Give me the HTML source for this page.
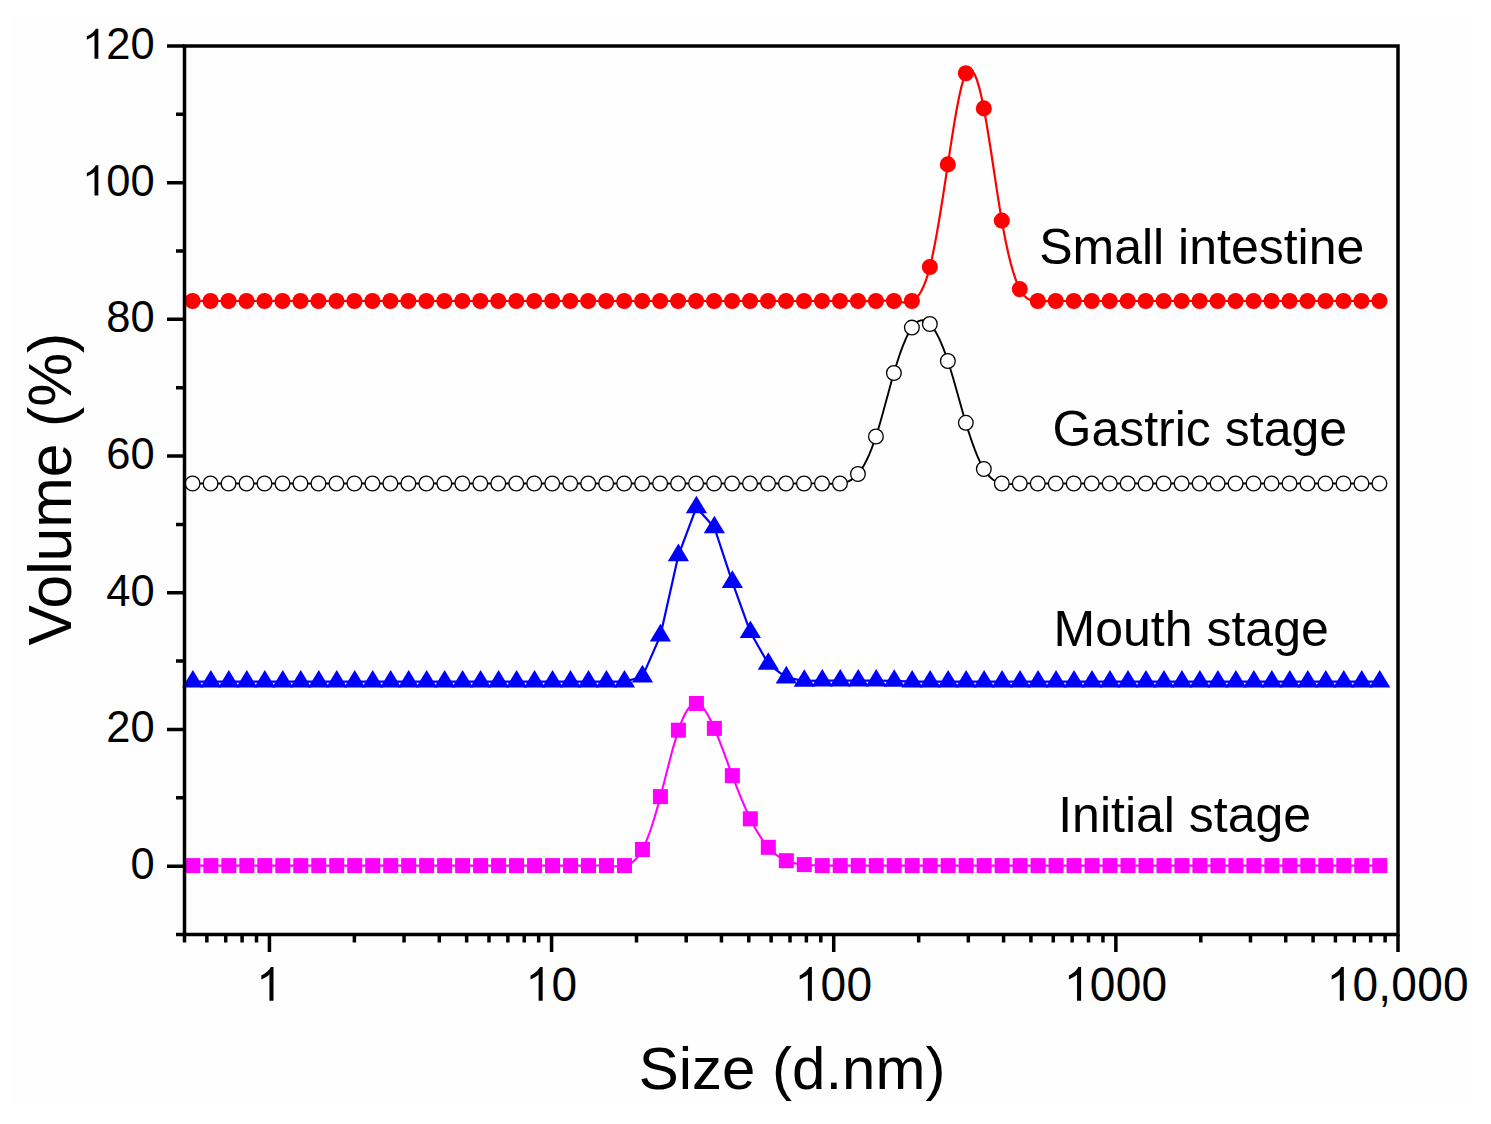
<!DOCTYPE html>
<html><head><meta charset="utf-8"><title>Volume vs Size</title>
<style>html,body{margin:0;padding:0;background:#fff;width:1491px;height:1124px;overflow:hidden;font-family:"Liberation Sans",sans-serif}svg{display:block}</style>
</head><body>
<svg width="1491" height="1124" viewBox="0 0 1491 1124">
<rect x="0" y="0" width="1491" height="1124" fill="#ffffff"/>
<rect x="11" y="17" width="1461" height="1089" fill="#fefefe"/>
<g>
<path d="M192.87,865.60 L195.11,865.60 L197.36,865.60 L199.61,865.60 L201.86,865.60 L204.11,865.60 L206.35,865.60 L208.60,865.60 L210.85,865.60 L213.10,865.60 L215.34,865.60 L217.59,865.60 L219.84,865.60 L222.09,865.60 L224.34,865.60 L226.58,865.60 L228.83,865.60 L231.08,865.60 L233.33,865.60 L235.58,865.60 L237.82,865.60 L240.07,865.60 L242.32,865.60 L244.57,865.60 L246.81,865.60 L249.06,865.60 L251.31,865.60 L253.56,865.60 L255.81,865.60 L258.05,865.60 L260.30,865.60 L262.55,865.60 L264.80,865.60 L267.05,865.60 L269.29,865.60 L271.54,865.60 L273.79,865.60 L276.04,865.60 L278.29,865.60 L280.53,865.60 L282.78,865.60 L285.03,865.60 L287.28,865.60 L289.52,865.60 L291.77,865.60 L294.02,865.60 L296.27,865.60 L298.52,865.60 L300.76,865.60 L303.01,865.60 L305.26,865.60 L307.51,865.60 L309.76,865.60 L312.00,865.60 L314.25,865.60 L316.50,865.60 L318.75,865.60 L320.99,865.60 L323.24,865.60 L325.49,865.60 L327.74,865.60 L329.99,865.60 L332.23,865.60 L334.48,865.60 L336.73,865.60 L338.98,865.60 L341.23,865.60 L343.47,865.60 L345.72,865.60 L347.97,865.60 L350.22,865.60 L352.47,865.60 L354.71,865.60 L356.96,865.60 L359.21,865.60 L361.46,865.60 L363.70,865.60 L365.95,865.60 L368.20,865.60 L370.45,865.60 L372.70,865.60 L374.94,865.60 L377.19,865.60 L379.44,865.60 L381.69,865.60 L383.94,865.60 L386.18,865.60 L388.43,865.60 L390.68,865.60 L392.93,865.60 L395.17,865.60 L397.42,865.60 L399.67,865.60 L401.92,865.60 L404.17,865.60 L406.41,865.60 L408.66,865.60 L410.91,865.60 L413.16,865.60 L415.41,865.60 L417.65,865.60 L419.90,865.60 L422.15,865.60 L424.40,865.60 L426.65,865.60 L428.89,865.60 L431.14,865.60 L433.39,865.60 L435.64,865.60 L437.88,865.60 L440.13,865.60 L442.38,865.60 L444.63,865.60 L446.88,865.60 L449.12,865.60 L451.37,865.60 L453.62,865.60 L455.87,865.60 L458.12,865.60 L460.36,865.60 L462.61,865.60 L464.86,865.60 L467.11,865.60 L469.35,865.60 L471.60,865.60 L473.85,865.60 L476.10,865.60 L478.35,865.60 L480.59,865.60 L482.84,865.60 L485.09,865.60 L487.34,865.60 L489.59,865.60 L491.83,865.60 L494.08,865.60 L496.33,865.60 L498.58,865.60 L500.82,865.60 L503.07,865.60 L505.32,865.60 L507.57,865.60 L509.82,865.60 L512.06,865.60 L514.31,865.60 L516.56,865.60 L518.81,865.60 L521.06,865.60 L523.30,865.60 L525.55,865.60 L527.80,865.60 L530.05,865.60 L532.30,865.60 L534.54,865.60 L536.79,865.60 L539.04,865.60 L541.29,865.60 L543.53,865.60 L545.78,865.60 L548.03,865.60 L550.28,865.60 L552.53,865.60 L554.77,865.60 L557.02,865.59 L559.27,865.59 L561.52,865.59 L563.77,865.59 L566.01,865.59 L568.26,865.59 L570.51,865.60 L572.76,865.61 L575.00,865.62 L577.25,865.64 L579.50,865.64 L581.75,865.65 L584.00,865.64 L586.24,865.63 L588.49,865.60 L590.74,865.56 L592.99,865.51 L595.24,865.47 L597.48,865.44 L599.73,865.42 L601.98,865.44 L604.23,865.50 L606.47,865.60 L608.72,865.75 L610.97,865.93 L613.22,866.09 L615.47,866.21 L617.71,866.26 L619.96,866.19 L622.21,865.98 L624.46,865.60 L626.71,865.00 L628.95,864.13 L631.20,862.92 L633.45,861.30 L635.70,859.21 L637.95,856.60 L640.19,853.38 L642.44,849.50 L644.69,844.91 L646.94,839.65 L649.18,833.75 L651.43,827.28 L653.68,820.28 L655.93,812.80 L658.18,804.89 L660.42,796.60 L662.67,788.00 L664.92,779.20 L667.17,770.36 L669.42,761.60 L671.66,753.07 L673.91,744.90 L676.16,737.23 L678.41,730.20 L680.65,723.93 L682.90,718.46 L685.15,713.81 L687.40,709.99 L689.65,707.03 L691.89,704.95 L694.14,703.77 L696.39,703.50 L698.64,704.15 L700.89,705.66 L703.13,707.95 L705.38,710.94 L707.63,714.56 L709.88,718.73 L712.13,723.37 L714.37,728.40 L716.62,733.75 L718.87,739.37 L721.12,745.19 L723.36,751.17 L725.61,757.26 L727.86,763.39 L730.11,769.52 L732.36,775.60 L734.60,781.57 L736.85,787.42 L739.10,793.12 L741.35,798.65 L743.60,804.01 L745.84,809.16 L748.09,814.10 L750.34,818.80 L752.59,823.25 L754.83,827.44 L757.08,831.39 L759.33,835.07 L761.58,838.51 L763.83,841.69 L766.07,844.62 L768.32,847.30 L770.57,849.73 L772.82,851.92 L775.07,853.88 L777.31,855.62 L779.56,857.16 L781.81,858.52 L784.06,859.69 L786.30,860.70 L788.55,861.56 L790.80,862.27 L793.05,862.87 L795.30,863.36 L797.54,863.77 L799.79,864.10 L802.04,864.37 L804.29,864.60 L806.54,864.80 L808.78,864.98 L811.03,865.14 L813.28,865.27 L815.53,865.39 L817.78,865.48 L820.02,865.55 L822.27,865.60 L824.52,865.63 L826.77,865.65 L829.01,865.66 L831.26,865.65 L833.51,865.64 L835.76,865.63 L838.01,865.61 L840.25,865.60 L842.50,865.59 L844.75,865.59 L847.00,865.58 L849.25,865.59 L851.49,865.59 L853.74,865.59 L855.99,865.60 L858.24,865.60 L860.48,865.60 L862.73,865.60 L864.98,865.60 L867.23,865.60 L869.48,865.60 L871.72,865.60 L873.97,865.60 L876.22,865.60 L878.47,865.60 L880.72,865.60 L882.96,865.60 L885.21,865.60 L887.46,865.60 L889.71,865.60 L891.96,865.60 L894.20,865.60 L896.45,865.60 L898.70,865.60 L900.95,865.60 L903.19,865.60 L905.44,865.60 L907.69,865.60 L909.94,865.60 L912.19,865.60 L914.43,865.60 L916.68,865.60 L918.93,865.60 L921.18,865.60 L923.43,865.60 L925.67,865.60 L927.92,865.60 L930.17,865.60 L932.42,865.60 L934.66,865.60 L936.91,865.60 L939.16,865.60 L941.41,865.60 L943.66,865.60 L945.90,865.60 L948.15,865.60 L950.40,865.60 L952.65,865.60 L954.90,865.60 L957.14,865.60 L959.39,865.60 L961.64,865.60 L963.89,865.60 L966.13,865.60 L968.38,865.60 L970.63,865.60 L972.88,865.60 L975.13,865.60 L977.37,865.60 L979.62,865.60 L981.87,865.60 L984.12,865.60 L986.37,865.60 L988.61,865.60 L990.86,865.60 L993.11,865.60 L995.36,865.60 L997.61,865.60 L999.85,865.60 L1002.10,865.60 L1004.35,865.60 L1006.60,865.60 L1008.84,865.60 L1011.09,865.60 L1013.34,865.60 L1015.59,865.60 L1017.84,865.60 L1020.08,865.60 L1022.33,865.60 L1024.58,865.60 L1026.83,865.60 L1029.08,865.60 L1031.32,865.60 L1033.57,865.60 L1035.82,865.60 L1038.07,865.60 L1040.31,865.60 L1042.56,865.60 L1044.81,865.60 L1047.06,865.60 L1049.31,865.60 L1051.55,865.60 L1053.80,865.60 L1056.05,865.60 L1058.30,865.60 L1060.55,865.60 L1062.79,865.60 L1065.04,865.60 L1067.29,865.60 L1069.54,865.60 L1071.79,865.60 L1074.03,865.60 L1076.28,865.60 L1078.53,865.60 L1080.78,865.60 L1083.02,865.60 L1085.27,865.60 L1087.52,865.60 L1089.77,865.60 L1092.02,865.60 L1094.26,865.60 L1096.51,865.60 L1098.76,865.60 L1101.01,865.60 L1103.26,865.60 L1105.50,865.60 L1107.75,865.60 L1110.00,865.60 L1112.25,865.60 L1114.49,865.60 L1116.74,865.60 L1118.99,865.60 L1121.24,865.60 L1123.49,865.60 L1125.73,865.60 L1127.98,865.60 L1130.23,865.60 L1132.48,865.60 L1134.73,865.60 L1136.97,865.60 L1139.22,865.60 L1141.47,865.60 L1143.72,865.60 L1145.96,865.60 L1148.21,865.60 L1150.46,865.60 L1152.71,865.60 L1154.96,865.60 L1157.20,865.60 L1159.45,865.60 L1161.70,865.60 L1163.95,865.60 L1166.20,865.60 L1168.44,865.60 L1170.69,865.60 L1172.94,865.60 L1175.19,865.60 L1177.44,865.60 L1179.68,865.60 L1181.93,865.60 L1184.18,865.60 L1186.43,865.60 L1188.67,865.60 L1190.92,865.60 L1193.17,865.60 L1195.42,865.60 L1197.67,865.60 L1199.91,865.60 L1202.16,865.60 L1204.41,865.60 L1206.66,865.60 L1208.91,865.60 L1211.15,865.60 L1213.40,865.60 L1215.65,865.60 L1217.90,865.60 L1220.14,865.60 L1222.39,865.60 L1224.64,865.60 L1226.89,865.60 L1229.14,865.60 L1231.38,865.60 L1233.63,865.60 L1235.88,865.60 L1238.13,865.60 L1240.38,865.60 L1242.62,865.60 L1244.87,865.60 L1247.12,865.60 L1249.37,865.60 L1251.62,865.60 L1253.86,865.60 L1256.11,865.60 L1258.36,865.60 L1260.61,865.60 L1262.85,865.60 L1265.10,865.60 L1267.35,865.60 L1269.60,865.60 L1271.85,865.60 L1274.09,865.60 L1276.34,865.60 L1278.59,865.60 L1280.84,865.60 L1283.09,865.60 L1285.33,865.60 L1287.58,865.60 L1289.83,865.60 L1292.08,865.60 L1294.32,865.60 L1296.57,865.60 L1298.82,865.60 L1301.07,865.60 L1303.32,865.60 L1305.56,865.60 L1307.81,865.60 L1310.06,865.60 L1312.31,865.60 L1314.56,865.60 L1316.80,865.60 L1319.05,865.60 L1321.30,865.60 L1323.55,865.60 L1325.79,865.60 L1328.04,865.60 L1330.29,865.60 L1332.54,865.60 L1334.79,865.60 L1337.03,865.60 L1339.28,865.60 L1341.53,865.60 L1343.78,865.60 L1346.03,865.60 L1348.27,865.60 L1350.52,865.60 L1352.77,865.60 L1355.02,865.60 L1357.27,865.60 L1359.51,865.60 L1361.76,865.60 L1364.01,865.60 L1366.26,865.60 L1368.50,865.60 L1370.75,865.60 L1373.00,865.60 L1375.25,865.60 L1377.50,865.60 L1379.74,865.60" fill="none" stroke="#ff00ff" stroke-width="2.10" stroke-linejoin="round"/>
<rect x="185.37" y="858.10" width="15.0" height="15.0" fill="#ff00ff"/>
<rect x="203.35" y="858.10" width="15.0" height="15.0" fill="#ff00ff"/>
<rect x="221.33" y="858.10" width="15.0" height="15.0" fill="#ff00ff"/>
<rect x="239.31" y="858.10" width="15.0" height="15.0" fill="#ff00ff"/>
<rect x="257.30" y="858.10" width="15.0" height="15.0" fill="#ff00ff"/>
<rect x="275.28" y="858.10" width="15.0" height="15.0" fill="#ff00ff"/>
<rect x="293.26" y="858.10" width="15.0" height="15.0" fill="#ff00ff"/>
<rect x="311.25" y="858.10" width="15.0" height="15.0" fill="#ff00ff"/>
<rect x="329.23" y="858.10" width="15.0" height="15.0" fill="#ff00ff"/>
<rect x="347.21" y="858.10" width="15.0" height="15.0" fill="#ff00ff"/>
<rect x="365.20" y="858.10" width="15.0" height="15.0" fill="#ff00ff"/>
<rect x="383.18" y="858.10" width="15.0" height="15.0" fill="#ff00ff"/>
<rect x="401.16" y="858.10" width="15.0" height="15.0" fill="#ff00ff"/>
<rect x="419.15" y="858.10" width="15.0" height="15.0" fill="#ff00ff"/>
<rect x="437.13" y="858.10" width="15.0" height="15.0" fill="#ff00ff"/>
<rect x="455.11" y="858.10" width="15.0" height="15.0" fill="#ff00ff"/>
<rect x="473.09" y="858.10" width="15.0" height="15.0" fill="#ff00ff"/>
<rect x="491.08" y="858.10" width="15.0" height="15.0" fill="#ff00ff"/>
<rect x="509.06" y="858.10" width="15.0" height="15.0" fill="#ff00ff"/>
<rect x="527.04" y="858.10" width="15.0" height="15.0" fill="#ff00ff"/>
<rect x="545.03" y="858.10" width="15.0" height="15.0" fill="#ff00ff"/>
<rect x="563.01" y="858.10" width="15.0" height="15.0" fill="#ff00ff"/>
<rect x="580.99" y="858.10" width="15.0" height="15.0" fill="#ff00ff"/>
<rect x="598.97" y="858.10" width="15.0" height="15.0" fill="#ff00ff"/>
<rect x="616.96" y="858.10" width="15.0" height="15.0" fill="#ff00ff"/>
<rect x="634.94" y="842.00" width="15.0" height="15.0" fill="#ff00ff"/>
<rect x="652.92" y="789.10" width="15.0" height="15.0" fill="#ff00ff"/>
<rect x="670.91" y="722.70" width="15.0" height="15.0" fill="#ff00ff"/>
<rect x="688.89" y="696.00" width="15.0" height="15.0" fill="#ff00ff"/>
<rect x="706.87" y="720.90" width="15.0" height="15.0" fill="#ff00ff"/>
<rect x="724.86" y="768.10" width="15.0" height="15.0" fill="#ff00ff"/>
<rect x="742.84" y="811.30" width="15.0" height="15.0" fill="#ff00ff"/>
<rect x="760.82" y="839.80" width="15.0" height="15.0" fill="#ff00ff"/>
<rect x="778.80" y="853.20" width="15.0" height="15.0" fill="#ff00ff"/>
<rect x="796.79" y="857.10" width="15.0" height="15.0" fill="#ff00ff"/>
<rect x="814.77" y="858.10" width="15.0" height="15.0" fill="#ff00ff"/>
<rect x="832.75" y="858.10" width="15.0" height="15.0" fill="#ff00ff"/>
<rect x="850.74" y="858.10" width="15.0" height="15.0" fill="#ff00ff"/>
<rect x="868.72" y="858.10" width="15.0" height="15.0" fill="#ff00ff"/>
<rect x="886.70" y="858.10" width="15.0" height="15.0" fill="#ff00ff"/>
<rect x="904.69" y="858.10" width="15.0" height="15.0" fill="#ff00ff"/>
<rect x="922.67" y="858.10" width="15.0" height="15.0" fill="#ff00ff"/>
<rect x="940.65" y="858.10" width="15.0" height="15.0" fill="#ff00ff"/>
<rect x="958.63" y="858.10" width="15.0" height="15.0" fill="#ff00ff"/>
<rect x="976.62" y="858.10" width="15.0" height="15.0" fill="#ff00ff"/>
<rect x="994.60" y="858.10" width="15.0" height="15.0" fill="#ff00ff"/>
<rect x="1012.58" y="858.10" width="15.0" height="15.0" fill="#ff00ff"/>
<rect x="1030.57" y="858.10" width="15.0" height="15.0" fill="#ff00ff"/>
<rect x="1048.55" y="858.10" width="15.0" height="15.0" fill="#ff00ff"/>
<rect x="1066.53" y="858.10" width="15.0" height="15.0" fill="#ff00ff"/>
<rect x="1084.52" y="858.10" width="15.0" height="15.0" fill="#ff00ff"/>
<rect x="1102.50" y="858.10" width="15.0" height="15.0" fill="#ff00ff"/>
<rect x="1120.48" y="858.10" width="15.0" height="15.0" fill="#ff00ff"/>
<rect x="1138.46" y="858.10" width="15.0" height="15.0" fill="#ff00ff"/>
<rect x="1156.45" y="858.10" width="15.0" height="15.0" fill="#ff00ff"/>
<rect x="1174.43" y="858.10" width="15.0" height="15.0" fill="#ff00ff"/>
<rect x="1192.41" y="858.10" width="15.0" height="15.0" fill="#ff00ff"/>
<rect x="1210.40" y="858.10" width="15.0" height="15.0" fill="#ff00ff"/>
<rect x="1228.38" y="858.10" width="15.0" height="15.0" fill="#ff00ff"/>
<rect x="1246.36" y="858.10" width="15.0" height="15.0" fill="#ff00ff"/>
<rect x="1264.35" y="858.10" width="15.0" height="15.0" fill="#ff00ff"/>
<rect x="1282.33" y="858.10" width="15.0" height="15.0" fill="#ff00ff"/>
<rect x="1300.31" y="858.10" width="15.0" height="15.0" fill="#ff00ff"/>
<rect x="1318.29" y="858.10" width="15.0" height="15.0" fill="#ff00ff"/>
<rect x="1336.28" y="858.10" width="15.0" height="15.0" fill="#ff00ff"/>
<rect x="1354.26" y="858.10" width="15.0" height="15.0" fill="#ff00ff"/>
<rect x="1372.24" y="858.10" width="15.0" height="15.0" fill="#ff00ff"/>
<path d="M192.87,681.70 L210.85,681.70 L228.83,681.70 L246.81,681.70 L264.80,681.70 L282.78,681.70 L300.76,681.70 L318.75,681.70 L336.73,681.70 L354.71,681.70 L372.70,681.70 L390.68,681.70 L408.66,681.70 L426.65,681.70 L444.63,681.70 L462.61,681.70 L480.59,681.70 L498.58,681.70 L516.56,681.70 L534.54,681.70 L552.53,681.70 L570.51,681.70 L588.49,681.70 L606.47,681.70 L624.46,681.70 L642.44,676.60 L660.42,635.60 L678.41,555.30 L696.39,507.40 L714.37,527.50 L732.36,582.10 L750.34,632.20 L768.32,663.90 L786.30,677.60 L804.29,680.90 L822.27,680.70 L840.25,680.70 L858.24,680.70 L876.22,680.70 L894.20,680.90 L912.19,681.70 L930.17,681.70 L948.15,681.70 L966.13,681.70 L984.12,681.70 L1002.10,681.70 L1020.08,681.70 L1038.07,681.70 L1056.05,681.70 L1074.03,681.70 L1092.02,681.70 L1110.00,681.70 L1127.98,681.70 L1145.96,681.70 L1163.95,681.70 L1181.93,681.70 L1199.91,681.70 L1217.90,681.70 L1235.88,681.70 L1253.86,681.70 L1271.85,681.70 L1289.83,681.70 L1307.81,681.70 L1325.79,681.70 L1343.78,681.70 L1361.76,681.70 L1379.74,681.70" fill="none" stroke="#0000ff" stroke-width="2.20" stroke-linejoin="round"/>
<path d="M192.87,669.97L203.47,687.57L182.27,687.57Z" fill="#0000ff"/>
<path d="M210.85,669.97L221.45,687.57L200.25,687.57Z" fill="#0000ff"/>
<path d="M228.83,669.97L239.43,687.57L218.23,687.57Z" fill="#0000ff"/>
<path d="M246.81,669.97L257.42,687.57L236.22,687.57Z" fill="#0000ff"/>
<path d="M264.80,669.97L275.40,687.57L254.20,687.57Z" fill="#0000ff"/>
<path d="M282.78,669.97L293.38,687.57L272.18,687.57Z" fill="#0000ff"/>
<path d="M300.76,669.97L311.36,687.57L290.16,687.57Z" fill="#0000ff"/>
<path d="M318.75,669.97L329.35,687.57L308.15,687.57Z" fill="#0000ff"/>
<path d="M336.73,669.97L347.33,687.57L326.13,687.57Z" fill="#0000ff"/>
<path d="M354.71,669.97L365.31,687.57L344.11,687.57Z" fill="#0000ff"/>
<path d="M372.70,669.97L383.30,687.57L362.10,687.57Z" fill="#0000ff"/>
<path d="M390.68,669.97L401.28,687.57L380.08,687.57Z" fill="#0000ff"/>
<path d="M408.66,669.97L419.26,687.57L398.06,687.57Z" fill="#0000ff"/>
<path d="M426.65,669.97L437.25,687.57L416.05,687.57Z" fill="#0000ff"/>
<path d="M444.63,669.97L455.23,687.57L434.03,687.57Z" fill="#0000ff"/>
<path d="M462.61,669.97L473.21,687.57L452.01,687.57Z" fill="#0000ff"/>
<path d="M480.59,669.97L491.19,687.57L469.99,687.57Z" fill="#0000ff"/>
<path d="M498.58,669.97L509.18,687.57L487.98,687.57Z" fill="#0000ff"/>
<path d="M516.56,669.97L527.16,687.57L505.96,687.57Z" fill="#0000ff"/>
<path d="M534.54,669.97L545.14,687.57L523.94,687.57Z" fill="#0000ff"/>
<path d="M552.53,669.97L563.13,687.57L541.93,687.57Z" fill="#0000ff"/>
<path d="M570.51,669.97L581.11,687.57L559.91,687.57Z" fill="#0000ff"/>
<path d="M588.49,669.97L599.09,687.57L577.89,687.57Z" fill="#0000ff"/>
<path d="M606.47,669.97L617.07,687.57L595.87,687.57Z" fill="#0000ff"/>
<path d="M624.46,669.97L635.06,687.57L613.86,687.57Z" fill="#0000ff"/>
<path d="M642.44,664.87L653.04,682.47L631.84,682.47Z" fill="#0000ff"/>
<path d="M660.42,623.87L671.02,641.47L649.82,641.47Z" fill="#0000ff"/>
<path d="M678.41,543.57L689.01,561.17L667.81,561.17Z" fill="#0000ff"/>
<path d="M696.39,495.67L706.99,513.27L685.79,513.27Z" fill="#0000ff"/>
<path d="M714.37,515.77L724.97,533.37L703.77,533.37Z" fill="#0000ff"/>
<path d="M732.36,570.37L742.96,587.97L721.76,587.97Z" fill="#0000ff"/>
<path d="M750.34,620.47L760.94,638.07L739.74,638.07Z" fill="#0000ff"/>
<path d="M768.32,652.17L778.92,669.77L757.72,669.77Z" fill="#0000ff"/>
<path d="M786.30,665.87L796.90,683.47L775.70,683.47Z" fill="#0000ff"/>
<path d="M804.29,669.17L814.89,686.77L793.69,686.77Z" fill="#0000ff"/>
<path d="M822.27,668.97L832.87,686.57L811.67,686.57Z" fill="#0000ff"/>
<path d="M840.25,668.97L850.85,686.57L829.65,686.57Z" fill="#0000ff"/>
<path d="M858.24,668.97L868.84,686.57L847.64,686.57Z" fill="#0000ff"/>
<path d="M876.22,668.97L886.82,686.57L865.62,686.57Z" fill="#0000ff"/>
<path d="M894.20,669.17L904.80,686.77L883.60,686.77Z" fill="#0000ff"/>
<path d="M912.19,669.97L922.79,687.57L901.59,687.57Z" fill="#0000ff"/>
<path d="M930.17,669.97L940.77,687.57L919.57,687.57Z" fill="#0000ff"/>
<path d="M948.15,669.97L958.75,687.57L937.55,687.57Z" fill="#0000ff"/>
<path d="M966.13,669.97L976.74,687.57L955.53,687.57Z" fill="#0000ff"/>
<path d="M984.12,669.97L994.72,687.57L973.52,687.57Z" fill="#0000ff"/>
<path d="M1002.10,669.97L1012.70,687.57L991.50,687.57Z" fill="#0000ff"/>
<path d="M1020.08,669.97L1030.68,687.57L1009.48,687.57Z" fill="#0000ff"/>
<path d="M1038.07,669.97L1048.67,687.57L1027.47,687.57Z" fill="#0000ff"/>
<path d="M1056.05,669.97L1066.65,687.57L1045.45,687.57Z" fill="#0000ff"/>
<path d="M1074.03,669.97L1084.63,687.57L1063.43,687.57Z" fill="#0000ff"/>
<path d="M1092.02,669.97L1102.62,687.57L1081.42,687.57Z" fill="#0000ff"/>
<path d="M1110.00,669.97L1120.60,687.57L1099.40,687.57Z" fill="#0000ff"/>
<path d="M1127.98,669.97L1138.58,687.57L1117.38,687.57Z" fill="#0000ff"/>
<path d="M1145.96,669.97L1156.56,687.57L1135.37,687.57Z" fill="#0000ff"/>
<path d="M1163.95,669.97L1174.55,687.57L1153.35,687.57Z" fill="#0000ff"/>
<path d="M1181.93,669.97L1192.53,687.57L1171.33,687.57Z" fill="#0000ff"/>
<path d="M1199.91,669.97L1210.51,687.57L1189.31,687.57Z" fill="#0000ff"/>
<path d="M1217.90,669.97L1228.50,687.57L1207.30,687.57Z" fill="#0000ff"/>
<path d="M1235.88,669.97L1246.48,687.57L1225.28,687.57Z" fill="#0000ff"/>
<path d="M1253.86,669.97L1264.46,687.57L1243.26,687.57Z" fill="#0000ff"/>
<path d="M1271.85,669.97L1282.45,687.57L1261.25,687.57Z" fill="#0000ff"/>
<path d="M1289.83,669.97L1300.43,687.57L1279.23,687.57Z" fill="#0000ff"/>
<path d="M1307.81,669.97L1318.41,687.57L1297.21,687.57Z" fill="#0000ff"/>
<path d="M1325.79,669.97L1336.39,687.57L1315.19,687.57Z" fill="#0000ff"/>
<path d="M1343.78,669.97L1354.38,687.57L1333.18,687.57Z" fill="#0000ff"/>
<path d="M1361.76,669.97L1372.36,687.57L1351.16,687.57Z" fill="#0000ff"/>
<path d="M1379.74,669.97L1390.34,687.57L1369.14,687.57Z" fill="#0000ff"/>
<path d="M192.57,483.50 L194.81,483.50 L197.06,483.50 L199.31,483.50 L201.56,483.50 L203.81,483.50 L206.05,483.50 L208.30,483.50 L210.55,483.50 L212.80,483.50 L215.04,483.50 L217.29,483.50 L219.54,483.50 L221.79,483.50 L224.04,483.50 L226.28,483.50 L228.53,483.50 L230.78,483.50 L233.03,483.50 L235.28,483.50 L237.52,483.50 L239.77,483.50 L242.02,483.50 L244.27,483.50 L246.51,483.50 L248.76,483.50 L251.01,483.50 L253.26,483.50 L255.51,483.50 L257.75,483.50 L260.00,483.50 L262.25,483.50 L264.50,483.50 L266.75,483.50 L268.99,483.50 L271.24,483.50 L273.49,483.50 L275.74,483.50 L277.99,483.50 L280.23,483.50 L282.48,483.50 L284.73,483.50 L286.98,483.50 L289.22,483.50 L291.47,483.50 L293.72,483.50 L295.97,483.50 L298.22,483.50 L300.46,483.50 L302.71,483.50 L304.96,483.50 L307.21,483.50 L309.46,483.50 L311.70,483.50 L313.95,483.50 L316.20,483.50 L318.45,483.50 L320.69,483.50 L322.94,483.50 L325.19,483.50 L327.44,483.50 L329.69,483.50 L331.93,483.50 L334.18,483.50 L336.43,483.50 L338.68,483.50 L340.93,483.50 L343.17,483.50 L345.42,483.50 L347.67,483.50 L349.92,483.50 L352.17,483.50 L354.41,483.50 L356.66,483.50 L358.91,483.50 L361.16,483.50 L363.40,483.50 L365.65,483.50 L367.90,483.50 L370.15,483.50 L372.40,483.50 L374.64,483.50 L376.89,483.50 L379.14,483.50 L381.39,483.50 L383.64,483.50 L385.88,483.50 L388.13,483.50 L390.38,483.50 L392.63,483.50 L394.87,483.50 L397.12,483.50 L399.37,483.50 L401.62,483.50 L403.87,483.50 L406.11,483.50 L408.36,483.50 L410.61,483.50 L412.86,483.50 L415.11,483.50 L417.35,483.50 L419.60,483.50 L421.85,483.50 L424.10,483.50 L426.35,483.50 L428.59,483.50 L430.84,483.50 L433.09,483.50 L435.34,483.50 L437.58,483.50 L439.83,483.50 L442.08,483.50 L444.33,483.50 L446.58,483.50 L448.82,483.50 L451.07,483.50 L453.32,483.50 L455.57,483.50 L457.82,483.50 L460.06,483.50 L462.31,483.50 L464.56,483.50 L466.81,483.50 L469.05,483.50 L471.30,483.50 L473.55,483.50 L475.80,483.50 L478.05,483.50 L480.29,483.50 L482.54,483.50 L484.79,483.50 L487.04,483.50 L489.29,483.50 L491.53,483.50 L493.78,483.50 L496.03,483.50 L498.28,483.50 L500.52,483.50 L502.77,483.50 L505.02,483.50 L507.27,483.50 L509.52,483.50 L511.76,483.50 L514.01,483.50 L516.26,483.50 L518.51,483.50 L520.76,483.50 L523.00,483.50 L525.25,483.50 L527.50,483.50 L529.75,483.50 L532.00,483.50 L534.24,483.50 L536.49,483.50 L538.74,483.50 L540.99,483.50 L543.23,483.50 L545.48,483.50 L547.73,483.50 L549.98,483.50 L552.23,483.50 L554.47,483.50 L556.72,483.50 L558.97,483.50 L561.22,483.50 L563.47,483.50 L565.71,483.50 L567.96,483.50 L570.21,483.50 L572.46,483.50 L574.70,483.50 L576.95,483.50 L579.20,483.50 L581.45,483.50 L583.70,483.50 L585.94,483.50 L588.19,483.50 L590.44,483.50 L592.69,483.50 L594.94,483.50 L597.18,483.50 L599.43,483.50 L601.68,483.50 L603.93,483.50 L606.17,483.50 L608.42,483.50 L610.67,483.50 L612.92,483.50 L615.17,483.50 L617.41,483.50 L619.66,483.50 L621.91,483.50 L624.16,483.50 L626.41,483.50 L628.65,483.50 L630.90,483.50 L633.15,483.50 L635.40,483.50 L637.65,483.50 L639.89,483.50 L642.14,483.50 L644.39,483.50 L646.64,483.50 L648.88,483.50 L651.13,483.50 L653.38,483.50 L655.63,483.50 L657.88,483.50 L660.12,483.50 L662.37,483.50 L664.62,483.50 L666.87,483.50 L669.12,483.50 L671.36,483.50 L673.61,483.50 L675.86,483.50 L678.11,483.50 L680.35,483.50 L682.60,483.50 L684.85,483.50 L687.10,483.50 L689.35,483.50 L691.59,483.50 L693.84,483.50 L696.09,483.50 L698.34,483.50 L700.59,483.50 L702.83,483.50 L705.08,483.50 L707.33,483.50 L709.58,483.50 L711.83,483.50 L714.07,483.50 L716.32,483.50 L718.57,483.50 L720.82,483.50 L723.06,483.50 L725.31,483.50 L727.56,483.50 L729.81,483.50 L732.06,483.50 L734.30,483.50 L736.55,483.50 L738.80,483.50 L741.05,483.50 L743.30,483.50 L745.54,483.50 L747.79,483.50 L750.04,483.50 L752.29,483.50 L754.53,483.50 L756.78,483.50 L759.03,483.50 L761.28,483.50 L763.53,483.50 L765.77,483.50 L768.02,483.50 L770.27,483.50 L772.52,483.50 L774.77,483.50 L777.01,483.49 L779.26,483.49 L781.51,483.49 L783.76,483.50 L786.00,483.50 L788.25,483.51 L790.50,483.51 L792.75,483.52 L795.00,483.52 L797.24,483.52 L799.49,483.52 L801.74,483.51 L803.99,483.50 L806.24,483.48 L808.48,483.45 L810.73,483.43 L812.98,483.41 L815.23,483.41 L817.48,483.42 L819.72,483.45 L821.97,483.50 L824.22,483.58 L826.47,483.67 L828.71,483.76 L830.96,483.82 L833.21,483.84 L835.46,483.81 L837.71,483.70 L839.95,483.50 L842.20,483.18 L844.45,482.71 L846.70,482.04 L848.95,481.12 L851.19,479.90 L853.44,478.34 L855.69,476.39 L857.94,474.00 L860.18,471.14 L862.43,467.78 L864.68,463.91 L866.93,459.52 L869.18,454.60 L871.42,449.13 L873.67,443.10 L875.92,436.50 L878.17,429.33 L880.42,421.70 L882.66,413.73 L884.91,405.53 L887.16,397.24 L889.41,388.97 L891.66,380.85 L893.90,373.00 L896.15,365.52 L898.40,358.48 L900.65,351.91 L902.89,345.85 L905.14,340.35 L907.39,335.45 L909.64,331.19 L911.89,327.60 L914.13,324.73 L916.38,322.56 L918.63,321.10 L920.88,320.34 L923.13,320.25 L925.37,320.84 L927.62,322.09 L929.87,324.00 L932.12,326.55 L934.36,329.73 L936.61,333.52 L938.86,337.90 L941.11,342.86 L943.36,348.37 L945.60,354.42 L947.85,361.00 L950.10,368.07 L952.35,375.53 L954.60,383.29 L956.84,391.24 L959.09,399.27 L961.34,407.28 L963.59,415.16 L965.84,422.80 L968.08,430.12 L970.33,437.06 L972.58,443.59 L974.83,449.69 L977.07,455.31 L979.32,460.43 L981.57,465.00 L983.82,469.00 L986.07,472.41 L988.31,475.26 L990.56,477.60 L992.81,479.49 L995.06,480.97 L997.31,482.10 L999.55,482.93 L1001.80,483.50 L1004.05,483.87 L1006.30,484.07 L1008.54,484.13 L1010.79,484.09 L1013.04,483.97 L1015.29,483.81 L1017.54,483.65 L1019.78,483.50 L1022.03,483.40 L1024.28,483.35 L1026.53,483.33 L1028.78,483.34 L1031.02,483.37 L1033.27,483.42 L1035.52,483.46 L1037.77,483.50 L1040.01,483.53 L1042.26,483.54 L1044.51,483.55 L1046.76,483.54 L1049.01,483.53 L1051.25,483.52 L1053.50,483.51 L1055.75,483.50 L1058.00,483.49 L1060.25,483.49 L1062.49,483.49 L1064.74,483.49 L1066.99,483.49 L1069.24,483.49 L1071.49,483.50 L1073.73,483.50 L1075.98,483.50 L1078.23,483.50 L1080.48,483.50 L1082.72,483.50 L1084.97,483.50 L1087.22,483.50 L1089.47,483.50 L1091.72,483.50 L1093.96,483.50 L1096.21,483.50 L1098.46,483.50 L1100.71,483.50 L1102.96,483.50 L1105.20,483.50 L1107.45,483.50 L1109.70,483.50 L1111.95,483.50 L1114.19,483.50 L1116.44,483.50 L1118.69,483.50 L1120.94,483.50 L1123.19,483.50 L1125.43,483.50 L1127.68,483.50 L1129.93,483.50 L1132.18,483.50 L1134.43,483.50 L1136.67,483.50 L1138.92,483.50 L1141.17,483.50 L1143.42,483.50 L1145.66,483.50 L1147.91,483.50 L1150.16,483.50 L1152.41,483.50 L1154.66,483.50 L1156.90,483.50 L1159.15,483.50 L1161.40,483.50 L1163.65,483.50 L1165.90,483.50 L1168.14,483.50 L1170.39,483.50 L1172.64,483.50 L1174.89,483.50 L1177.14,483.50 L1179.38,483.50 L1181.63,483.50 L1183.88,483.50 L1186.13,483.50 L1188.37,483.50 L1190.62,483.50 L1192.87,483.50 L1195.12,483.50 L1197.37,483.50 L1199.61,483.50 L1201.86,483.50 L1204.11,483.50 L1206.36,483.50 L1208.61,483.50 L1210.85,483.50 L1213.10,483.50 L1215.35,483.50 L1217.60,483.50 L1219.84,483.50 L1222.09,483.50 L1224.34,483.50 L1226.59,483.50 L1228.84,483.50 L1231.08,483.50 L1233.33,483.50 L1235.58,483.50 L1237.83,483.50 L1240.08,483.50 L1242.32,483.50 L1244.57,483.50 L1246.82,483.50 L1249.07,483.50 L1251.32,483.50 L1253.56,483.50 L1255.81,483.50 L1258.06,483.50 L1260.31,483.50 L1262.55,483.50 L1264.80,483.50 L1267.05,483.50 L1269.30,483.50 L1271.55,483.50 L1273.79,483.50 L1276.04,483.50 L1278.29,483.50 L1280.54,483.50 L1282.79,483.50 L1285.03,483.50 L1287.28,483.50 L1289.53,483.50 L1291.78,483.50 L1294.02,483.50 L1296.27,483.50 L1298.52,483.50 L1300.77,483.50 L1303.02,483.50 L1305.26,483.50 L1307.51,483.50 L1309.76,483.50 L1312.01,483.50 L1314.26,483.50 L1316.50,483.50 L1318.75,483.50 L1321.00,483.50 L1323.25,483.50 L1325.49,483.50 L1327.74,483.50 L1329.99,483.50 L1332.24,483.50 L1334.49,483.50 L1336.73,483.50 L1338.98,483.50 L1341.23,483.50 L1343.48,483.50 L1345.73,483.50 L1347.97,483.50 L1350.22,483.50 L1352.47,483.50 L1354.72,483.50 L1356.97,483.50 L1359.21,483.50 L1361.46,483.50 L1363.71,483.50 L1365.96,483.50 L1368.20,483.50 L1370.45,483.50 L1372.70,483.50 L1374.95,483.50 L1377.20,483.50 L1379.44,483.50" fill="none" stroke="#000000" stroke-width="1.90" stroke-linejoin="round"/>
<circle cx="192.57" cy="483.50" r="7.35" fill="#ffffff" stroke="#000" stroke-width="1.3"/>
<circle cx="210.55" cy="483.50" r="7.35" fill="#ffffff" stroke="#000" stroke-width="1.3"/>
<circle cx="228.53" cy="483.50" r="7.35" fill="#ffffff" stroke="#000" stroke-width="1.3"/>
<circle cx="246.51" cy="483.50" r="7.35" fill="#ffffff" stroke="#000" stroke-width="1.3"/>
<circle cx="264.50" cy="483.50" r="7.35" fill="#ffffff" stroke="#000" stroke-width="1.3"/>
<circle cx="282.48" cy="483.50" r="7.35" fill="#ffffff" stroke="#000" stroke-width="1.3"/>
<circle cx="300.46" cy="483.50" r="7.35" fill="#ffffff" stroke="#000" stroke-width="1.3"/>
<circle cx="318.45" cy="483.50" r="7.35" fill="#ffffff" stroke="#000" stroke-width="1.3"/>
<circle cx="336.43" cy="483.50" r="7.35" fill="#ffffff" stroke="#000" stroke-width="1.3"/>
<circle cx="354.41" cy="483.50" r="7.35" fill="#ffffff" stroke="#000" stroke-width="1.3"/>
<circle cx="372.40" cy="483.50" r="7.35" fill="#ffffff" stroke="#000" stroke-width="1.3"/>
<circle cx="390.38" cy="483.50" r="7.35" fill="#ffffff" stroke="#000" stroke-width="1.3"/>
<circle cx="408.36" cy="483.50" r="7.35" fill="#ffffff" stroke="#000" stroke-width="1.3"/>
<circle cx="426.35" cy="483.50" r="7.35" fill="#ffffff" stroke="#000" stroke-width="1.3"/>
<circle cx="444.33" cy="483.50" r="7.35" fill="#ffffff" stroke="#000" stroke-width="1.3"/>
<circle cx="462.31" cy="483.50" r="7.35" fill="#ffffff" stroke="#000" stroke-width="1.3"/>
<circle cx="480.29" cy="483.50" r="7.35" fill="#ffffff" stroke="#000" stroke-width="1.3"/>
<circle cx="498.28" cy="483.50" r="7.35" fill="#ffffff" stroke="#000" stroke-width="1.3"/>
<circle cx="516.26" cy="483.50" r="7.35" fill="#ffffff" stroke="#000" stroke-width="1.3"/>
<circle cx="534.24" cy="483.50" r="7.35" fill="#ffffff" stroke="#000" stroke-width="1.3"/>
<circle cx="552.23" cy="483.50" r="7.35" fill="#ffffff" stroke="#000" stroke-width="1.3"/>
<circle cx="570.21" cy="483.50" r="7.35" fill="#ffffff" stroke="#000" stroke-width="1.3"/>
<circle cx="588.19" cy="483.50" r="7.35" fill="#ffffff" stroke="#000" stroke-width="1.3"/>
<circle cx="606.17" cy="483.50" r="7.35" fill="#ffffff" stroke="#000" stroke-width="1.3"/>
<circle cx="624.16" cy="483.50" r="7.35" fill="#ffffff" stroke="#000" stroke-width="1.3"/>
<circle cx="642.14" cy="483.50" r="7.35" fill="#ffffff" stroke="#000" stroke-width="1.3"/>
<circle cx="660.12" cy="483.50" r="7.35" fill="#ffffff" stroke="#000" stroke-width="1.3"/>
<circle cx="678.11" cy="483.50" r="7.35" fill="#ffffff" stroke="#000" stroke-width="1.3"/>
<circle cx="696.09" cy="483.50" r="7.35" fill="#ffffff" stroke="#000" stroke-width="1.3"/>
<circle cx="714.07" cy="483.50" r="7.35" fill="#ffffff" stroke="#000" stroke-width="1.3"/>
<circle cx="732.06" cy="483.50" r="7.35" fill="#ffffff" stroke="#000" stroke-width="1.3"/>
<circle cx="750.04" cy="483.50" r="7.35" fill="#ffffff" stroke="#000" stroke-width="1.3"/>
<circle cx="768.02" cy="483.50" r="7.35" fill="#ffffff" stroke="#000" stroke-width="1.3"/>
<circle cx="786.00" cy="483.50" r="7.35" fill="#ffffff" stroke="#000" stroke-width="1.3"/>
<circle cx="803.99" cy="483.50" r="7.35" fill="#ffffff" stroke="#000" stroke-width="1.3"/>
<circle cx="821.97" cy="483.50" r="7.35" fill="#ffffff" stroke="#000" stroke-width="1.3"/>
<circle cx="839.95" cy="483.50" r="7.35" fill="#ffffff" stroke="#000" stroke-width="1.3"/>
<circle cx="857.94" cy="474.00" r="7.35" fill="#ffffff" stroke="#000" stroke-width="1.3"/>
<circle cx="875.92" cy="436.50" r="7.35" fill="#ffffff" stroke="#000" stroke-width="1.3"/>
<circle cx="893.90" cy="373.00" r="7.35" fill="#ffffff" stroke="#000" stroke-width="1.3"/>
<circle cx="911.89" cy="327.60" r="7.35" fill="#ffffff" stroke="#000" stroke-width="1.3"/>
<circle cx="929.87" cy="324.00" r="7.35" fill="#ffffff" stroke="#000" stroke-width="1.3"/>
<circle cx="947.85" cy="361.00" r="7.35" fill="#ffffff" stroke="#000" stroke-width="1.3"/>
<circle cx="965.84" cy="422.80" r="7.35" fill="#ffffff" stroke="#000" stroke-width="1.3"/>
<circle cx="983.82" cy="469.00" r="7.35" fill="#ffffff" stroke="#000" stroke-width="1.3"/>
<circle cx="1001.80" cy="483.50" r="7.35" fill="#ffffff" stroke="#000" stroke-width="1.3"/>
<circle cx="1019.78" cy="483.50" r="7.35" fill="#ffffff" stroke="#000" stroke-width="1.3"/>
<circle cx="1037.77" cy="483.50" r="7.35" fill="#ffffff" stroke="#000" stroke-width="1.3"/>
<circle cx="1055.75" cy="483.50" r="7.35" fill="#ffffff" stroke="#000" stroke-width="1.3"/>
<circle cx="1073.73" cy="483.50" r="7.35" fill="#ffffff" stroke="#000" stroke-width="1.3"/>
<circle cx="1091.72" cy="483.50" r="7.35" fill="#ffffff" stroke="#000" stroke-width="1.3"/>
<circle cx="1109.70" cy="483.50" r="7.35" fill="#ffffff" stroke="#000" stroke-width="1.3"/>
<circle cx="1127.68" cy="483.50" r="7.35" fill="#ffffff" stroke="#000" stroke-width="1.3"/>
<circle cx="1145.66" cy="483.50" r="7.35" fill="#ffffff" stroke="#000" stroke-width="1.3"/>
<circle cx="1163.65" cy="483.50" r="7.35" fill="#ffffff" stroke="#000" stroke-width="1.3"/>
<circle cx="1181.63" cy="483.50" r="7.35" fill="#ffffff" stroke="#000" stroke-width="1.3"/>
<circle cx="1199.61" cy="483.50" r="7.35" fill="#ffffff" stroke="#000" stroke-width="1.3"/>
<circle cx="1217.60" cy="483.50" r="7.35" fill="#ffffff" stroke="#000" stroke-width="1.3"/>
<circle cx="1235.58" cy="483.50" r="7.35" fill="#ffffff" stroke="#000" stroke-width="1.3"/>
<circle cx="1253.56" cy="483.50" r="7.35" fill="#ffffff" stroke="#000" stroke-width="1.3"/>
<circle cx="1271.55" cy="483.50" r="7.35" fill="#ffffff" stroke="#000" stroke-width="1.3"/>
<circle cx="1289.53" cy="483.50" r="7.35" fill="#ffffff" stroke="#000" stroke-width="1.3"/>
<circle cx="1307.51" cy="483.50" r="7.35" fill="#ffffff" stroke="#000" stroke-width="1.3"/>
<circle cx="1325.49" cy="483.50" r="7.35" fill="#ffffff" stroke="#000" stroke-width="1.3"/>
<circle cx="1343.48" cy="483.50" r="7.35" fill="#ffffff" stroke="#000" stroke-width="1.3"/>
<circle cx="1361.46" cy="483.50" r="7.35" fill="#ffffff" stroke="#000" stroke-width="1.3"/>
<circle cx="1379.44" cy="483.50" r="7.35" fill="#ffffff" stroke="#000" stroke-width="1.3"/>
<path d="M192.57,301.00 L194.81,301.00 L197.06,301.00 L199.31,301.00 L201.56,301.00 L203.81,301.00 L206.05,301.00 L208.30,301.00 L210.55,301.00 L212.80,301.00 L215.04,301.00 L217.29,301.00 L219.54,301.00 L221.79,301.00 L224.04,301.00 L226.28,301.00 L228.53,301.00 L230.78,301.00 L233.03,301.00 L235.28,301.00 L237.52,301.00 L239.77,301.00 L242.02,301.00 L244.27,301.00 L246.51,301.00 L248.76,301.00 L251.01,301.00 L253.26,301.00 L255.51,301.00 L257.75,301.00 L260.00,301.00 L262.25,301.00 L264.50,301.00 L266.75,301.00 L268.99,301.00 L271.24,301.00 L273.49,301.00 L275.74,301.00 L277.99,301.00 L280.23,301.00 L282.48,301.00 L284.73,301.00 L286.98,301.00 L289.22,301.00 L291.47,301.00 L293.72,301.00 L295.97,301.00 L298.22,301.00 L300.46,301.00 L302.71,301.00 L304.96,301.00 L307.21,301.00 L309.46,301.00 L311.70,301.00 L313.95,301.00 L316.20,301.00 L318.45,301.00 L320.69,301.00 L322.94,301.00 L325.19,301.00 L327.44,301.00 L329.69,301.00 L331.93,301.00 L334.18,301.00 L336.43,301.00 L338.68,301.00 L340.93,301.00 L343.17,301.00 L345.42,301.00 L347.67,301.00 L349.92,301.00 L352.17,301.00 L354.41,301.00 L356.66,301.00 L358.91,301.00 L361.16,301.00 L363.40,301.00 L365.65,301.00 L367.90,301.00 L370.15,301.00 L372.40,301.00 L374.64,301.00 L376.89,301.00 L379.14,301.00 L381.39,301.00 L383.64,301.00 L385.88,301.00 L388.13,301.00 L390.38,301.00 L392.63,301.00 L394.87,301.00 L397.12,301.00 L399.37,301.00 L401.62,301.00 L403.87,301.00 L406.11,301.00 L408.36,301.00 L410.61,301.00 L412.86,301.00 L415.11,301.00 L417.35,301.00 L419.60,301.00 L421.85,301.00 L424.10,301.00 L426.35,301.00 L428.59,301.00 L430.84,301.00 L433.09,301.00 L435.34,301.00 L437.58,301.00 L439.83,301.00 L442.08,301.00 L444.33,301.00 L446.58,301.00 L448.82,301.00 L451.07,301.00 L453.32,301.00 L455.57,301.00 L457.82,301.00 L460.06,301.00 L462.31,301.00 L464.56,301.00 L466.81,301.00 L469.05,301.00 L471.30,301.00 L473.55,301.00 L475.80,301.00 L478.05,301.00 L480.29,301.00 L482.54,301.00 L484.79,301.00 L487.04,301.00 L489.29,301.00 L491.53,301.00 L493.78,301.00 L496.03,301.00 L498.28,301.00 L500.52,301.00 L502.77,301.00 L505.02,301.00 L507.27,301.00 L509.52,301.00 L511.76,301.00 L514.01,301.00 L516.26,301.00 L518.51,301.00 L520.76,301.00 L523.00,301.00 L525.25,301.00 L527.50,301.00 L529.75,301.00 L532.00,301.00 L534.24,301.00 L536.49,301.00 L538.74,301.00 L540.99,301.00 L543.23,301.00 L545.48,301.00 L547.73,301.00 L549.98,301.00 L552.23,301.00 L554.47,301.00 L556.72,301.00 L558.97,301.00 L561.22,301.00 L563.47,301.00 L565.71,301.00 L567.96,301.00 L570.21,301.00 L572.46,301.00 L574.70,301.00 L576.95,301.00 L579.20,301.00 L581.45,301.00 L583.70,301.00 L585.94,301.00 L588.19,301.00 L590.44,301.00 L592.69,301.00 L594.94,301.00 L597.18,301.00 L599.43,301.00 L601.68,301.00 L603.93,301.00 L606.17,301.00 L608.42,301.00 L610.67,301.00 L612.92,301.00 L615.17,301.00 L617.41,301.00 L619.66,301.00 L621.91,301.00 L624.16,301.00 L626.41,301.00 L628.65,301.00 L630.90,301.00 L633.15,301.00 L635.40,301.00 L637.65,301.00 L639.89,301.00 L642.14,301.00 L644.39,301.00 L646.64,301.00 L648.88,301.00 L651.13,301.00 L653.38,301.00 L655.63,301.00 L657.88,301.00 L660.12,301.00 L662.37,301.00 L664.62,301.00 L666.87,301.00 L669.12,301.00 L671.36,301.00 L673.61,301.00 L675.86,301.00 L678.11,301.00 L680.35,301.00 L682.60,301.00 L684.85,301.00 L687.10,301.00 L689.35,301.00 L691.59,301.00 L693.84,301.00 L696.09,301.00 L698.34,301.00 L700.59,301.00 L702.83,301.00 L705.08,301.00 L707.33,301.00 L709.58,301.00 L711.83,301.00 L714.07,301.00 L716.32,301.00 L718.57,301.00 L720.82,301.00 L723.06,301.00 L725.31,301.00 L727.56,301.00 L729.81,301.00 L732.06,301.00 L734.30,301.00 L736.55,301.00 L738.80,301.00 L741.05,301.00 L743.30,301.00 L745.54,301.00 L747.79,301.00 L750.04,301.00 L752.29,301.00 L754.53,301.00 L756.78,301.00 L759.03,301.00 L761.28,301.00 L763.53,301.00 L765.77,301.00 L768.02,301.00 L770.27,301.00 L772.52,301.00 L774.77,301.00 L777.01,301.00 L779.26,301.00 L781.51,301.00 L783.76,301.00 L786.00,301.00 L788.25,301.00 L790.50,301.00 L792.75,301.00 L795.00,301.00 L797.24,301.00 L799.49,301.00 L801.74,301.00 L803.99,301.00 L806.24,301.00 L808.48,301.00 L810.73,301.00 L812.98,301.00 L815.23,301.00 L817.48,301.00 L819.72,301.00 L821.97,301.00 L824.22,301.00 L826.47,301.00 L828.71,301.01 L830.96,301.01 L833.21,301.01 L835.46,301.01 L837.71,301.00 L839.95,301.00 L842.20,300.99 L844.45,300.99 L846.70,300.98 L848.95,300.97 L851.19,300.97 L853.44,300.98 L855.69,300.98 L857.94,301.00 L860.18,301.02 L862.43,301.05 L864.68,301.08 L866.93,301.10 L869.18,301.10 L871.42,301.09 L873.67,301.06 L875.92,301.00 L878.17,300.91 L880.42,300.81 L882.66,300.71 L884.91,300.64 L887.16,300.62 L889.41,300.66 L891.66,300.78 L893.90,301.00 L896.15,301.33 L898.40,301.71 L900.65,302.07 L902.89,302.33 L905.14,302.43 L907.39,302.29 L909.64,301.83 L911.89,301.00 L914.13,299.70 L916.38,297.82 L918.63,295.23 L920.88,291.79 L923.13,287.37 L925.37,281.86 L927.62,275.11 L929.87,267.00 L932.12,257.45 L934.36,246.59 L936.61,234.61 L938.86,221.70 L941.11,208.04 L943.36,193.81 L945.60,179.20 L947.85,164.40 L950.10,149.62 L952.35,135.15 L954.60,121.33 L956.84,108.48 L959.09,96.92 L961.34,86.99 L963.59,79.01 L965.84,73.30 L968.08,70.11 L970.33,69.38 L972.58,70.96 L974.83,74.70 L977.07,80.46 L979.32,88.09 L981.57,97.45 L983.82,108.40 L986.07,120.75 L988.31,134.23 L990.56,148.50 L992.81,163.24 L995.06,178.15 L997.31,192.89 L999.55,207.15 L1001.80,220.60 L1004.05,232.99 L1006.30,244.26 L1008.54,254.43 L1010.79,263.51 L1013.04,271.50 L1015.29,278.43 L1017.54,284.29 L1019.78,289.10 L1022.03,292.89 L1024.28,295.77 L1026.53,297.86 L1028.78,299.29 L1031.02,300.20 L1033.27,300.70 L1035.52,300.92 L1037.77,301.00 L1040.01,301.04 L1042.26,301.06 L1044.51,301.06 L1046.76,301.06 L1049.01,301.05 L1051.25,301.03 L1053.50,301.01 L1055.75,301.00 L1058.00,300.99 L1060.25,300.98 L1062.49,300.98 L1064.74,300.98 L1066.99,300.99 L1069.24,300.99 L1071.49,301.00 L1073.73,301.00 L1075.98,301.00 L1078.23,301.00 L1080.48,301.00 L1082.72,301.00 L1084.97,301.00 L1087.22,301.00 L1089.47,301.00 L1091.72,301.00 L1093.96,301.00 L1096.21,301.00 L1098.46,301.00 L1100.71,301.00 L1102.96,301.00 L1105.20,301.00 L1107.45,301.00 L1109.70,301.00 L1111.95,301.00 L1114.19,301.00 L1116.44,301.00 L1118.69,301.00 L1120.94,301.00 L1123.19,301.00 L1125.43,301.00 L1127.68,301.00 L1129.93,301.00 L1132.18,301.00 L1134.43,301.00 L1136.67,301.00 L1138.92,301.00 L1141.17,301.00 L1143.42,301.00 L1145.66,301.00 L1147.91,301.00 L1150.16,301.00 L1152.41,301.00 L1154.66,301.00 L1156.90,301.00 L1159.15,301.00 L1161.40,301.00 L1163.65,301.00 L1165.90,301.00 L1168.14,301.00 L1170.39,301.00 L1172.64,301.00 L1174.89,301.00 L1177.14,301.00 L1179.38,301.00 L1181.63,301.00 L1183.88,301.00 L1186.13,301.00 L1188.37,301.00 L1190.62,301.00 L1192.87,301.00 L1195.12,301.00 L1197.37,301.00 L1199.61,301.00 L1201.86,301.00 L1204.11,301.00 L1206.36,301.00 L1208.61,301.00 L1210.85,301.00 L1213.10,301.00 L1215.35,301.00 L1217.60,301.00 L1219.84,301.00 L1222.09,301.00 L1224.34,301.00 L1226.59,301.00 L1228.84,301.00 L1231.08,301.00 L1233.33,301.00 L1235.58,301.00 L1237.83,301.00 L1240.08,301.00 L1242.32,301.00 L1244.57,301.00 L1246.82,301.00 L1249.07,301.00 L1251.32,301.00 L1253.56,301.00 L1255.81,301.00 L1258.06,301.00 L1260.31,301.00 L1262.55,301.00 L1264.80,301.00 L1267.05,301.00 L1269.30,301.00 L1271.55,301.00 L1273.79,301.00 L1276.04,301.00 L1278.29,301.00 L1280.54,301.00 L1282.79,301.00 L1285.03,301.00 L1287.28,301.00 L1289.53,301.00 L1291.78,301.00 L1294.02,301.00 L1296.27,301.00 L1298.52,301.00 L1300.77,301.00 L1303.02,301.00 L1305.26,301.00 L1307.51,301.00 L1309.76,301.00 L1312.01,301.00 L1314.26,301.00 L1316.50,301.00 L1318.75,301.00 L1321.00,301.00 L1323.25,301.00 L1325.49,301.00 L1327.74,301.00 L1329.99,301.00 L1332.24,301.00 L1334.49,301.00 L1336.73,301.00 L1338.98,301.00 L1341.23,301.00 L1343.48,301.00 L1345.73,301.00 L1347.97,301.00 L1350.22,301.00 L1352.47,301.00 L1354.72,301.00 L1356.97,301.00 L1359.21,301.00 L1361.46,301.00 L1363.71,301.00 L1365.96,301.00 L1368.20,301.00 L1370.45,301.00 L1372.70,301.00 L1374.95,301.00 L1377.20,301.00 L1379.44,301.00" fill="none" stroke="#ff0000" stroke-width="2.20" stroke-linejoin="round"/>
<circle cx="192.57" cy="301.00" r="8.05" fill="#ff0000"/>
<circle cx="210.55" cy="301.00" r="8.05" fill="#ff0000"/>
<circle cx="228.53" cy="301.00" r="8.05" fill="#ff0000"/>
<circle cx="246.51" cy="301.00" r="8.05" fill="#ff0000"/>
<circle cx="264.50" cy="301.00" r="8.05" fill="#ff0000"/>
<circle cx="282.48" cy="301.00" r="8.05" fill="#ff0000"/>
<circle cx="300.46" cy="301.00" r="8.05" fill="#ff0000"/>
<circle cx="318.45" cy="301.00" r="8.05" fill="#ff0000"/>
<circle cx="336.43" cy="301.00" r="8.05" fill="#ff0000"/>
<circle cx="354.41" cy="301.00" r="8.05" fill="#ff0000"/>
<circle cx="372.40" cy="301.00" r="8.05" fill="#ff0000"/>
<circle cx="390.38" cy="301.00" r="8.05" fill="#ff0000"/>
<circle cx="408.36" cy="301.00" r="8.05" fill="#ff0000"/>
<circle cx="426.35" cy="301.00" r="8.05" fill="#ff0000"/>
<circle cx="444.33" cy="301.00" r="8.05" fill="#ff0000"/>
<circle cx="462.31" cy="301.00" r="8.05" fill="#ff0000"/>
<circle cx="480.29" cy="301.00" r="8.05" fill="#ff0000"/>
<circle cx="498.28" cy="301.00" r="8.05" fill="#ff0000"/>
<circle cx="516.26" cy="301.00" r="8.05" fill="#ff0000"/>
<circle cx="534.24" cy="301.00" r="8.05" fill="#ff0000"/>
<circle cx="552.23" cy="301.00" r="8.05" fill="#ff0000"/>
<circle cx="570.21" cy="301.00" r="8.05" fill="#ff0000"/>
<circle cx="588.19" cy="301.00" r="8.05" fill="#ff0000"/>
<circle cx="606.17" cy="301.00" r="8.05" fill="#ff0000"/>
<circle cx="624.16" cy="301.00" r="8.05" fill="#ff0000"/>
<circle cx="642.14" cy="301.00" r="8.05" fill="#ff0000"/>
<circle cx="660.12" cy="301.00" r="8.05" fill="#ff0000"/>
<circle cx="678.11" cy="301.00" r="8.05" fill="#ff0000"/>
<circle cx="696.09" cy="301.00" r="8.05" fill="#ff0000"/>
<circle cx="714.07" cy="301.00" r="8.05" fill="#ff0000"/>
<circle cx="732.06" cy="301.00" r="8.05" fill="#ff0000"/>
<circle cx="750.04" cy="301.00" r="8.05" fill="#ff0000"/>
<circle cx="768.02" cy="301.00" r="8.05" fill="#ff0000"/>
<circle cx="786.00" cy="301.00" r="8.05" fill="#ff0000"/>
<circle cx="803.99" cy="301.00" r="8.05" fill="#ff0000"/>
<circle cx="821.97" cy="301.00" r="8.05" fill="#ff0000"/>
<circle cx="839.95" cy="301.00" r="8.05" fill="#ff0000"/>
<circle cx="857.94" cy="301.00" r="8.05" fill="#ff0000"/>
<circle cx="875.92" cy="301.00" r="8.05" fill="#ff0000"/>
<circle cx="893.90" cy="301.00" r="8.05" fill="#ff0000"/>
<circle cx="911.89" cy="301.00" r="8.05" fill="#ff0000"/>
<circle cx="929.87" cy="267.00" r="8.05" fill="#ff0000"/>
<circle cx="947.85" cy="164.40" r="8.05" fill="#ff0000"/>
<circle cx="965.84" cy="73.30" r="8.05" fill="#ff0000"/>
<circle cx="983.82" cy="108.40" r="8.05" fill="#ff0000"/>
<circle cx="1001.80" cy="220.60" r="8.05" fill="#ff0000"/>
<circle cx="1019.78" cy="289.10" r="8.05" fill="#ff0000"/>
<circle cx="1037.77" cy="301.00" r="8.05" fill="#ff0000"/>
<circle cx="1055.75" cy="301.00" r="8.05" fill="#ff0000"/>
<circle cx="1073.73" cy="301.00" r="8.05" fill="#ff0000"/>
<circle cx="1091.72" cy="301.00" r="8.05" fill="#ff0000"/>
<circle cx="1109.70" cy="301.00" r="8.05" fill="#ff0000"/>
<circle cx="1127.68" cy="301.00" r="8.05" fill="#ff0000"/>
<circle cx="1145.66" cy="301.00" r="8.05" fill="#ff0000"/>
<circle cx="1163.65" cy="301.00" r="8.05" fill="#ff0000"/>
<circle cx="1181.63" cy="301.00" r="8.05" fill="#ff0000"/>
<circle cx="1199.61" cy="301.00" r="8.05" fill="#ff0000"/>
<circle cx="1217.60" cy="301.00" r="8.05" fill="#ff0000"/>
<circle cx="1235.58" cy="301.00" r="8.05" fill="#ff0000"/>
<circle cx="1253.56" cy="301.00" r="8.05" fill="#ff0000"/>
<circle cx="1271.55" cy="301.00" r="8.05" fill="#ff0000"/>
<circle cx="1289.53" cy="301.00" r="8.05" fill="#ff0000"/>
<circle cx="1307.51" cy="301.00" r="8.05" fill="#ff0000"/>
<circle cx="1325.49" cy="301.00" r="8.05" fill="#ff0000"/>
<circle cx="1343.48" cy="301.00" r="8.05" fill="#ff0000"/>
<circle cx="1361.46" cy="301.00" r="8.05" fill="#ff0000"/>
<circle cx="1379.44" cy="301.00" r="8.05" fill="#ff0000"/>
</g>
<rect x="184.50" y="46.00" width="1213.50" height="888.50" fill="none" stroke="#000" stroke-width="3.5"/>
<path d="M176.00,934.50H184.50 M167.00,866.15H184.50 M176.00,797.80H184.50 M167.00,729.45H184.50 M176.00,661.10H184.50 M167.00,592.75H184.50 M176.00,524.40H184.50 M167.00,456.05H184.50 M176.00,387.70H184.50 M167.00,319.35H184.50 M176.00,251.00H184.50 M167.00,182.65H184.50 M176.00,114.30H184.50 M167.00,45.95H184.50 M184.50,934.50V942.50 M206.84,934.50V942.50 M225.73,934.50V942.50 M242.09,934.50V942.50 M256.52,934.50V942.50 M269.43,934.50V952.00 M354.37,934.50V942.50 M404.05,934.50V942.50 M439.30,934.50V942.50 M466.64,934.50V942.50 M488.98,934.50V942.50 M507.87,934.50V942.50 M524.23,934.50V942.50 M538.66,934.50V942.50 M551.57,934.50V952.00 M636.51,934.50V942.50 M686.19,934.50V942.50 M721.44,934.50V942.50 M748.78,934.50V942.50 M771.12,934.50V942.50 M790.01,934.50V942.50 M806.37,934.50V942.50 M820.81,934.50V942.50 M833.72,934.50V952.00 M918.65,934.50V942.50 M968.33,934.50V942.50 M1003.58,934.50V942.50 M1030.93,934.50V942.50 M1053.27,934.50V942.50 M1072.15,934.50V942.50 M1088.52,934.50V942.50 M1102.95,934.50V942.50 M1115.86,934.50V952.00 M1200.79,934.50V942.50 M1250.47,934.50V942.50 M1285.72,934.50V942.50 M1313.07,934.50V942.50 M1335.41,934.50V942.50 M1354.30,934.50V942.50 M1370.66,934.50V942.50 M1385.09,934.50V942.50 M1398.00,934.50V952.00" stroke="#000" stroke-width="3.5" fill="none"/>
<g fill="#000" font-family="Liberation Sans, sans-serif" font-size="42">
<text transform="translate(142.58,879.05) scale(1.0350,1.0400)" text-anchor="middle">0</text>
<text transform="translate(118.40,742.35) scale(1.0350,1.0400)" text-anchor="middle">2</text>
<text transform="translate(142.58,742.35) scale(1.0350,1.0400)" text-anchor="middle">0</text>
<text transform="translate(118.40,605.65) scale(1.0350,1.0400)" text-anchor="middle">4</text>
<text transform="translate(142.58,605.65) scale(1.0350,1.0400)" text-anchor="middle">0</text>
<text transform="translate(118.40,468.95) scale(1.0350,1.0400)" text-anchor="middle">6</text>
<text transform="translate(142.58,468.95) scale(1.0350,1.0400)" text-anchor="middle">0</text>
<text transform="translate(118.40,332.25) scale(1.0350,1.0400)" text-anchor="middle">8</text>
<text transform="translate(142.58,332.25) scale(1.0350,1.0400)" text-anchor="middle">0</text>
<path transform="translate(94.22,195.55) scale(0.02123,-0.02051) translate(-569.5,0)" d="M763,0 L583,0 L583,1147 Q518,1085 412,1023 Q306,961 222,930 L222,1104 Q373,1175 486,1276 Q599,1377 646,1472 L763,1472 Z"/>
<text transform="translate(118.40,195.55) scale(1.0350,1.0400)" text-anchor="middle">0</text>
<text transform="translate(142.58,195.55) scale(1.0350,1.0400)" text-anchor="middle">0</text>
<path transform="translate(94.22,58.85) scale(0.02123,-0.02051) translate(-569.5,0)" d="M763,0 L583,0 L583,1147 Q518,1085 412,1023 Q306,961 222,930 L222,1104 Q373,1175 486,1276 Q599,1377 646,1472 L763,1472 Z"/>
<text transform="translate(118.40,58.85) scale(1.0350,1.0400)" text-anchor="middle">2</text>
<text transform="translate(142.58,58.85) scale(1.0350,1.0400)" text-anchor="middle">0</text>
</g>
<g fill="#000" font-family="Liberation Sans, sans-serif" font-size="47">
<path transform="translate(269.13,1000.80) scale(0.02249,-0.02295) translate(-569.5,0)" d="M763,0 L583,0 L583,1147 Q518,1085 412,1023 Q306,961 222,930 L222,1104 Q373,1175 486,1276 Q599,1377 646,1472 L763,1472 Z"/>
<path transform="translate(538.33,1000.80) scale(0.02249,-0.02295) translate(-569.5,0)" d="M763,0 L583,0 L583,1147 Q518,1085 412,1023 Q306,961 222,930 L222,1104 Q373,1175 486,1276 Q599,1377 646,1472 L763,1472 Z"/>
<text transform="translate(564.21,1000.80) scale(0.9800,1.0350)" text-anchor="middle">0</text>
<path transform="translate(807.54,1000.80) scale(0.02249,-0.02295) translate(-569.5,0)" d="M763,0 L583,0 L583,1147 Q518,1085 412,1023 Q306,961 222,930 L222,1104 Q373,1175 486,1276 Q599,1377 646,1472 L763,1472 Z"/>
<text transform="translate(833.42,1000.80) scale(0.9800,1.0350)" text-anchor="middle">0</text>
<text transform="translate(859.30,1000.80) scale(0.9800,1.0350)" text-anchor="middle">0</text>
<path transform="translate(1076.74,1000.80) scale(0.02249,-0.02295) translate(-569.5,0)" d="M763,0 L583,0 L583,1147 Q518,1085 412,1023 Q306,961 222,930 L222,1104 Q373,1175 486,1276 Q599,1377 646,1472 L763,1472 Z"/>
<text transform="translate(1102.62,1000.80) scale(0.9800,1.0350)" text-anchor="middle">0</text>
<text transform="translate(1128.50,1000.80) scale(0.9800,1.0350)" text-anchor="middle">0</text>
<text transform="translate(1154.38,1000.80) scale(0.9800,1.0350)" text-anchor="middle">0</text>
<path transform="translate(1339.48,1000.80) scale(0.02249,-0.02295) translate(-569.5,0)" d="M763,0 L583,0 L583,1147 Q518,1085 412,1023 Q306,961 222,930 L222,1104 Q373,1175 486,1276 Q599,1377 646,1472 L763,1472 Z"/>
<text transform="translate(1365.36,1000.80) scale(0.9800,1.0350)" text-anchor="middle">0</text>
<text transform="translate(1384.76,1000.80) scale(0.9800,1.0350)" text-anchor="middle">,</text>
<text transform="translate(1404.16,1000.80) scale(0.9800,1.0350)" text-anchor="middle">0</text>
<text transform="translate(1430.04,1000.80) scale(0.9800,1.0350)" text-anchor="middle">0</text>
<text transform="translate(1455.92,1000.80) scale(0.9800,1.0350)" text-anchor="middle">0</text>
</g>
<text x="1039.2" y="263.8" font-family="Liberation Sans, sans-serif" font-size="50">Small intestine</text>
<text x="1052.5" y="446.1" font-family="Liberation Sans, sans-serif" font-size="50">Gastric stage</text>
<text x="1053.6" y="645.9" font-family="Liberation Sans, sans-serif" font-size="50">Mouth stage</text>
<text x="1058.2" y="832.2" font-family="Liberation Sans, sans-serif" font-size="50">Initial stage</text>
<text x="638.7" y="1088.8" font-family="Liberation Sans, sans-serif" font-size="60">Size (d.nm)</text>
<text transform="translate(70.9,645.5) rotate(-90)" font-family="Liberation Sans, sans-serif" font-size="60.5">Volume (%)</text>
</svg>
</body></html>
